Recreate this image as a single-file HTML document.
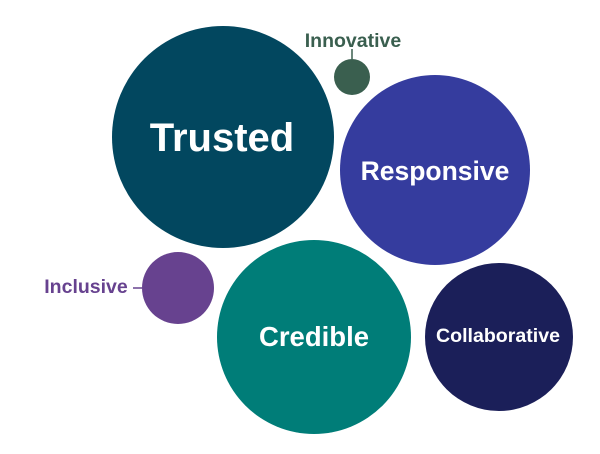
<!DOCTYPE html>
<html><head><meta charset="utf-8"><style>
html,body{margin:0;padding:0;background:#fff;}
svg{display:block;}
text{font-family:"Liberation Sans",Arial,sans-serif;font-weight:bold;}
</style></head><body>
<svg width="600" height="454" viewBox="0 0 600 454" xmlns="http://www.w3.org/2000/svg">
<rect width="600" height="454" fill="#fff"/>
<circle cx="223" cy="137" r="111" fill="#02475F"/>
<circle cx="435" cy="170" r="95" fill="#353C9E"/>
<circle cx="352" cy="77" r="18" fill="#3A5F4F"/>
<circle cx="178" cy="288" r="36" fill="#67428F"/>
<circle cx="314" cy="337" r="97" fill="#007D78"/>
<circle cx="499" cy="337" r="74" fill="#1B1F59"/>
<line x1="352" y1="49" x2="352" y2="59" stroke="#3A5F4F" stroke-width="1.5"/>
<line x1="133" y1="288" x2="142" y2="288" stroke="#67428F" stroke-width="1.5"/>
<text x="353" y="47" font-size="19.5" fill="#3A5F4F" text-anchor="middle">Innovative</text>
<text x="86" y="293" font-size="19.5" fill="#67428F" text-anchor="middle">Inclusive</text>
<text x="222" y="151" font-size="40" fill="#fff" text-anchor="middle">Trusted</text>
<text x="435" y="180" font-size="26.5" fill="#fff" text-anchor="middle">Responsive</text>
<text x="314" y="346" font-size="27.5" fill="#fff" text-anchor="middle">Credible</text>
<text x="498" y="342" font-size="19" fill="#fff" text-anchor="middle" textLength="124" lengthAdjust="spacingAndGlyphs">Collaborative</text>
</svg>
</body></html>
